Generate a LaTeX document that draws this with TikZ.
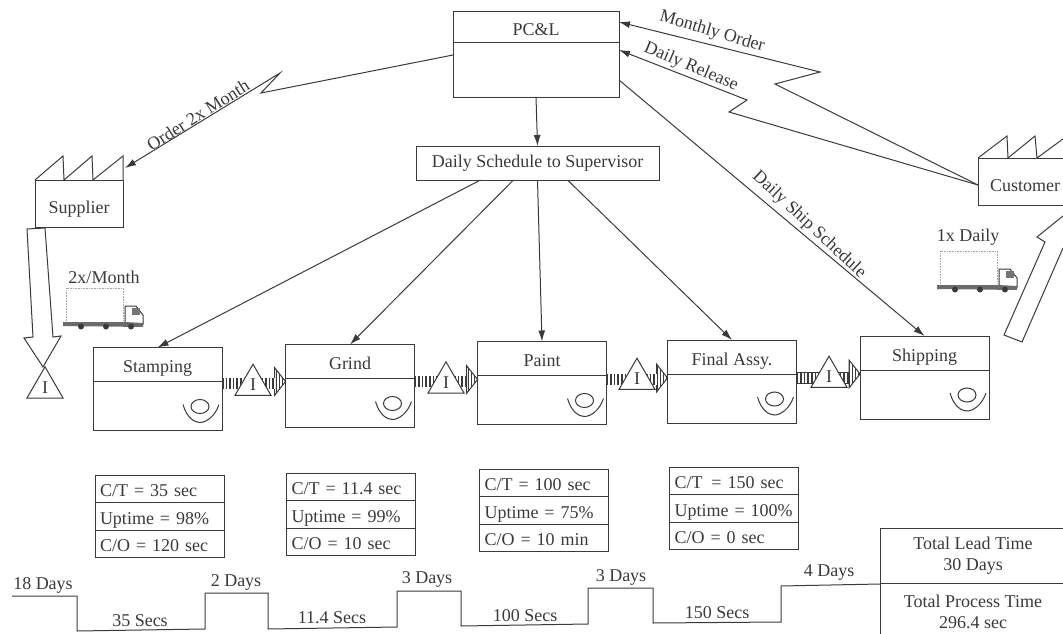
\documentclass[tikz,border=0pt]{standalone}
\usepackage{fontspec}
\setmainfont{Liberation Serif}
\definecolor{ink}{HTML}{3A3A3A}
\usetikzlibrary{calc, positioning, shapes.geometric, arrows.meta, patterns}

\begin{document}
\begin{tikzpicture}[
  x=1pt, y=-1pt,
  every node/.style={font=\fontsize{18}{20}\selectfont, text=ink, outer sep=0pt},
  line/.style={draw=ink, line width=1pt},
  arrow/.style={line, -{Latex[length=11pt,width=7pt]}},
  phead/.style={line, fill=white, minimum width=129pt, minimum height=34pt, inner sep=0pt,
                text height=16pt, text depth=0pt},
  pbody/.style={line, fill=white, minimum width=129pt, minimum height=49pt, inner sep=0pt},
  datarow/.style={line, text width=119pt, inner xsep=5pt, inner ysep=0pt, minimum height=27.5pt, align=left,
                  text height=16pt, text depth=0pt},
  factory/.style={line, minimum height=47pt, inner sep=0pt, text height=19pt, text depth=0pt},
  invt/.style={line, fill=white, regular polygon, regular polygon sides=3, minimum size=41.6pt, inner sep=0pt},
  pushhead/.style={line, isosceles triangle, isosceles triangle stretches, minimum width=28pt,
                   minimum height=11pt, inner sep=0pt, pattern=vertical lines, pattern color=ink},
  pushbar/.style={draw=ink, line width=11pt, dash pattern=on 1.6pt off 2pt,
                  preaction={draw=ink, solid, double=white, double distance=10.4pt, line width=0.7pt}},
  totalbox/.style={line, minimum width=186pt, inner sep=0pt, align=center,
                   font=\fontsize{18}{21}\selectfont},
  operator/.pic={
    \draw[line] (0,0) ellipse (9pt and 7pt);
    \draw[line] (-17,-2) .. controls (-13,12) and (-5,16) .. (0,16) .. controls (6,16) and (15,10) .. (19,-2);
  },
  truck/.pic={
    \draw[gray!70, line width=0.6pt, densely dotted] (0,33) -- (0,0) -- (57,0) -- (57,33);
    \draw[line, fill=white] (59,18) -- (70,18) -- (77,27) -- (77,36) -- (59,36) -- cycle;
    \fill[ink!70] (66,20) rectangle (74,27);
    \fill[ink!75] (-3,34) -- (59,34) -- (77,35) -- (77,39) -- (-3,38) -- cycle;
    \fill[ink] (15,38.5) circle (3pt) (40,38.5) circle (3pt) (65,38.5) circle (3pt);
  },
]
\useasboundingbox (0,0) rectangle (1063,634);

% planning
\node[phead, minimum width=166pt, minimum height=31pt] (pcl) at (536,27.5) {PC\&L};
\node[pbody, minimum width=166pt, minimum height=54pt, below=0pt of pcl] (pclbody) {};
\node[line, minimum width=243pt, minimum height=34pt, inner sep=0pt] (sched) at (537.5,163) {Daily Schedule to Supervisor};
\draw[arrow] (pclbody.south) -- (sched.north);

% process boxes
\node[phead] (stamp) at (157.5,364.5) {Stamping};
\node[pbody, below=0pt of stamp] (stampbody) {};
\node[phead] (grind) at (350,361.5) {Grind};
\node[pbody, below=0pt of grind] (grindbody) {};
\node[phead] (paint) at (542,358.5) {Paint};
\node[pbody, below=0pt of paint] (paintbody) {};
\node[phead] (final) at (732,357) {Final Assy.};
\node[pbody, below=0pt of final] (finalbody) {};
\node[phead] (ship) at (924.5,353) {Shipping};
\node[pbody, below=0pt of ship] (shipbody) {};

\pic at ($(stampbody.south east)+(-22,-24)$) {operator};
\pic at ($(grindbody.south east)+(-22,-24)$) {operator};
\pic at ($(paintbody.south east)+(-22,-24)$) {operator};
\pic at ($(finalbody.south east)+(-22,-24)$) {operator};
\pic at ($(shipbody.south east)+(-22,-24)$) {operator};

\draw[arrow] ([xshift=-57pt]sched.south) -- (stamp.north);
\draw[arrow] ([xshift=-24pt]sched.south) -- (grind.north);
\draw[arrow] (sched.south) -- (paint.north);
\draw[arrow] ([xshift=30pt]sched.south) -- (final.north);
\draw[arrow] ([yshift=-10pt]pclbody.east) -- (ship.north);

% push arrows and inventory
\node[pushhead, anchor=apex] (h1) at ([yshift=-3pt]grind.south west) {};
\node[pushhead, anchor=apex] (h2) at ([yshift=-4pt]paint.south west) {};
\node[pushhead, anchor=apex] (h3) at ([yshift=-4pt]final.south west) {};
\node[pushhead, anchor=apex] (h4) at ([yshift=-4pt]ship.south west) {};
\draw[pushbar] ([yshift=-2pt]stamp.south east) -- ([yshift=-2pt]stamp.south east -| h1.west);
\draw[pushbar] ([yshift=-3pt]grind.south east) -- ([yshift=-3pt]grind.south east -| h2.west);
\draw[pushbar] ([yshift=-4pt]paint.south east) -- ([yshift=-4pt]paint.south east -| h3.west);
\draw[pushbar] ([yshift=-4pt]final.south east) -- ([yshift=-4pt]final.south east -| h4.west);
\node[invt] (i1) at (253,385) {I};
\node[invt] (i2) at (446,382.6) {I};
\node[invt] (i3) at (637,379) {I};
\node[invt] (i4) at (829,377) {I};

% data boxes
\node[datarow] (ct1) at (159.5,488.75) {C/T = 35 sec};
\node[datarow, below=0pt of ct1] (up1) {Uptime = 98\%};
\node[datarow, below=0pt of up1] (co1) {C/O = 120 sec};
\node[datarow] (ct2) at (351,486.75) {C/T = 11.4 sec};
\node[datarow, below=0pt of ct2] (up2) {Uptime = 99\%};
\node[datarow, below=0pt of up2] (co2) {C/O = 10 sec};
\node[datarow] (ct3) at (544,482.75) {C/T = 100 sec};
\node[datarow, below=0pt of ct3] (up3) {Uptime = 75\%};
\node[datarow, below=0pt of up3] (co3) {C/O = 10 min};
\node[datarow] (ct4) at (734,480.75) {C/T\, = 150 sec};
\node[datarow, below=0pt of ct4] (up4) {Uptime = 100\%};
\node[datarow, below=0pt of up4] (co4) {C/O = 0 sec};

% supplier and customer
\node[factory, minimum width=88pt] (supplier) at (79,203.5) {Supplier};
\draw[line] (supplier.north west) -- ++(28,-24) -- ++(1,24) -- ++(28,-24) -- ++(1,24) -- ++(30,-24) -- (supplier.north east);
\node[factory, minimum width=94pt] (customer) at (1025,181.5) {Customer};
\draw[line] (customer.north west) -- ++(29,-22) -- ++(1,22) -- ++(27,-22) -- ++(2,22) -- ++(30,-22);

\draw[arrow] ([yshift=15pt]pclbody.west) -- (261,93) -- (280,73) -- ([shift={(2pt,12pt)}]supplier.north east);
\draw[arrow] ([yshift=-3.5pt]customer.west) -- (775,84) -- (820,72) -- ([yshift=5.5pt]pcl.east);
\draw[arrow] ([yshift=-3.5pt]customer.west) -- (729,112) -- (747,100) -- ([yshift=20pt]pclbody.east);

\draw[line, fill=white, line join=miter] (27,229) -- (33,337) -- (24,338) -- (43,367) -- (61,336) -- (53,337) -- (45,228) -- cycle;
\node[invt] (i0) at (45,387.6) {I};
\draw[line] (1063,216) -- (1037,237) -- (1045,242) -- (1004,335) -- (1022,342) -- (1063,248);

% trucks
\pic at (66,288) {truck};
\pic at (940,251) {truck};
\node (tr1) at (104,277) {2x/Month};
\node (tr2) at (968,237) {1x Daily};

% connector labels
\node[rotate=32] (l1) at (198,115) {Order 2x Month};
\node[rotate=-16.5] (l2) at (712,32) {Monthly Order};
\node[rotate=-23] (l3) at (691,67) {Daily Release};
\node[rotate=-43] (l4) at (809,225) {Daily Ship Schedule};

% timeline
\draw[line] (12,596) -- (77,596) -- (77,631) -- (205,629) -- (205,593) -- (268,593) -- (268,629)
  -- (397,627) -- (397,591) -- (461,591) -- (461,626) -- (588,624) -- (588,588) -- (653,588)
  -- (653,623) -- (781,622) -- (781,586) -- (880,584);
\node (t1) at (43,585) {18 Days};
\node (t2) at (140,621) {35 Secs};
\node (t3) at (236,582) {2 Days};
\node (t4) at (332,618) {11.4 Secs};
\node (t5) at (427,579) {3 Days};
\node (t6) at (525,616) {100 Secs};
\node (t7) at (621,577) {3 Days};
\node (t8) at (717,613) {150 Secs};
\node (t9) at (829,573) {4 Days};

% totals
\node[totalbox, minimum height=55pt] (lead) at (973,555.5) {Total Lead Time\\30 Days};
\node[totalbox, minimum height=58pt, below=0pt of lead] (proc) {Total Process Time\\296.4 sec};
\end{tikzpicture}
\end{document}
